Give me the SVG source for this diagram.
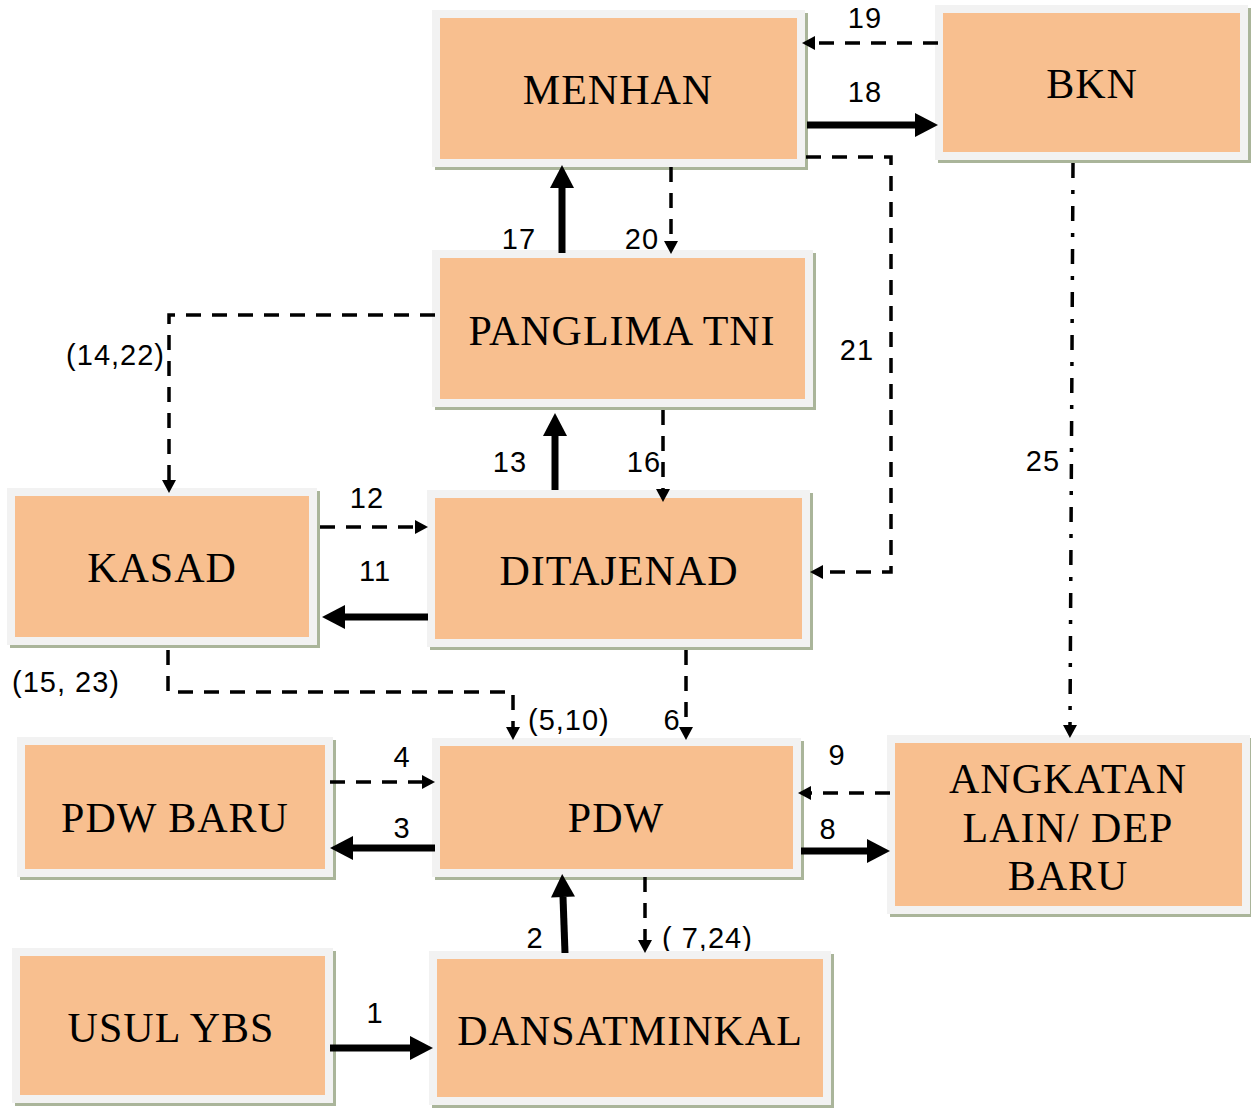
<svg xmlns="http://www.w3.org/2000/svg" width="1251" height="1108" viewBox="0 0 1251 1108">
<style>
.sh{fill:#aab59a}
.bx{fill:#f8bf8f;stroke:#f2f2f2;stroke-width:8}
.nt{font-family:"Liberation Serif","Times New Roman",serif;font-size:42px;letter-spacing:1px;fill:#000;text-anchor:middle}
.lb{font-family:"Liberation Sans",Arial,sans-serif;font-size:29px;letter-spacing:1px;fill:#000;text-anchor:middle}
.thick{fill:none;stroke:#000;stroke-width:7;marker-end:url(#ah)}
.dash{fill:none;stroke:#000;stroke-width:3.5;stroke-dasharray:15 11;marker-end:url(#ad)}
.dd{fill:none;stroke:#000;stroke-width:3.5;stroke-dasharray:15 12 4 12;marker-end:url(#ad)}
</style>
<defs>
<marker id="ah" markerUnits="userSpaceOnUse" markerWidth="24" markerHeight="26" viewBox="0 -13 24 26" refX="0" refY="0" orient="auto" overflow="visible">
<path d="M0,-12 L23,0 L0,12 Z" fill="#000"/>
</marker>
<marker id="ad" markerUnits="userSpaceOnUse" markerWidth="14" markerHeight="16" viewBox="0 -8 14 16" refX="0" refY="0" orient="auto" overflow="visible">
<path d="M0,-7 L13,0 L0,7 Z" fill="#000"/>
</marker>
</defs>
<rect width="1251" height="1108" fill="#fff"/>
<g id="labels">
<text class="lb" x="375" y="1023">1</text>
<text class="lb" x="535" y="948">2</text>
<text class="lb" x="402" y="838">3</text>
<text class="lb" x="402" y="767">4</text>
<text class="lb" x="528" y="730" style="text-anchor:start">(5,10)</text>
<text class="lb" x="672" y="730">6</text>
<text class="lb" x="662" y="948" style="text-anchor:start">( 7,24)</text>
<text class="lb" x="828" y="839">8</text>
<text class="lb" x="837" y="765">9</text>
<text class="lb" x="375" y="581">11</text>
<text class="lb" x="367" y="508">12</text>
<text class="lb" x="510" y="472">13</text>
<text class="lb" x="644" y="472">16</text>
<text class="lb" x="519" y="249">17</text>
<text class="lb" x="642" y="249">20</text>
<text class="lb" x="165" y="365" style="text-anchor:end">(14,22)</text>
<text class="lb" x="12" y="692" style="text-anchor:start">(15, 23)</text>
<text class="lb" x="865" y="102">18</text>
<text class="lb" x="865" y="28">19</text>
<text class="lb" x="857" y="360">21</text>
<text class="lb" x="1043" y="471">25</text>
</g>
<g id="node-menhan">
<rect class="sh" x="435" y="13" width="373" height="157"/>
<rect class="bx" x="436" y="14" width="365" height="149"/>
<text class="nt" x="618" y="104">MENHAN</text>
</g>
<g id="node-bkn">
<rect class="sh" x="938" y="8" width="313" height="155"/>
<rect class="bx" x="939" y="9" width="305" height="147"/>
<text class="nt" x="1092" y="98">BKN</text>
</g>
<g id="node-panglima">
<rect class="sh" x="435" y="253" width="381" height="157"/>
<rect class="bx" x="436" y="254" width="373" height="149"/>
<text class="nt" x="622" y="345">PANGLIMA TNI</text>
</g>
<g id="node-kasad">
<rect class="sh" x="10" y="491" width="310" height="157"/>
<rect class="bx" x="11" y="492" width="302" height="149"/>
<text class="nt" x="162" y="582">KASAD</text>
</g>
<g id="node-ditajenad">
<rect class="sh" x="430" y="493" width="383" height="157"/>
<rect class="bx" x="431" y="494" width="375" height="149"/>
<text class="nt" x="619" y="585">DITAJENAD</text>
</g>
<g id="node-pdwbaru">
<rect class="sh" x="20" y="740" width="316" height="140"/>
<rect class="bx" x="21" y="741" width="308" height="132"/>
<text class="nt" x="175" y="832">PDW BARU</text>
</g>
<g id="node-pdw">
<rect class="sh" x="435" y="741" width="369" height="139"/>
<rect class="bx" x="436" y="742" width="361" height="131"/>
<text class="nt" x="616" y="832">PDW</text>
</g>
<g id="node-angkatan">
<rect class="sh" x="890" y="738" width="361" height="179"/>
<rect class="bx" x="891" y="739" width="355" height="171"/>
<text class="nt" x="1068" y="793">ANGKATAN</text>
<text class="nt" x="1068" y="842">LAIN/ DEP</text>
<text class="nt" x="1068" y="890">BARU</text>
</g>
<g id="node-usul">
<rect class="sh" x="15" y="951" width="321" height="155"/>
<rect class="bx" x="16" y="952" width="313" height="147"/>
<text class="nt" x="171" y="1042">USUL YBS</text>
</g>
<g id="node-dansat">
<rect class="sh" x="432" y="954" width="402" height="154"/>
<rect class="bx" x="433" y="955" width="394" height="146"/>
<text class="nt" x="630" y="1045">DANSATMINKAL</text>
</g>
<g id="connectors">
<path class="thick" d="M330,1048 H410"/>
<path class="thick" d="M565,953 L563,897"/>
<path class="thick" d="M435,848 H353"/>
<path class="dash" d="M330,782 H422"/>
<path class="dash" d="M168,650 V692 H513 V727"/>
<path class="dash" d="M686,650 V727"/>
<path class="dash" d="M645,877 V940"/>
<path class="thick" d="M801,851 H867"/>
<path class="dash" d="M890,793 H811"/>
<path class="thick" d="M428,617 H345"/>
<path class="dash" d="M320,527 H415"/>
<path class="thick" d="M555,490 V436"/>
<path class="dash" d="M663,410 V489"/>
<path class="thick" d="M562,253 V188"/>
<path class="dash" d="M671,167 V241"/>
<path class="dash" d="M435,315 H169 V480"/>
<path class="thick" d="M807,125 H915"/>
<path class="dash" d="M938,43 H815"/>
<path class="dash" d="M806,157 H891 V572 H823"/>
<path class="dd" d="M1073,163 L1070,725"/>
</g>
</svg>
